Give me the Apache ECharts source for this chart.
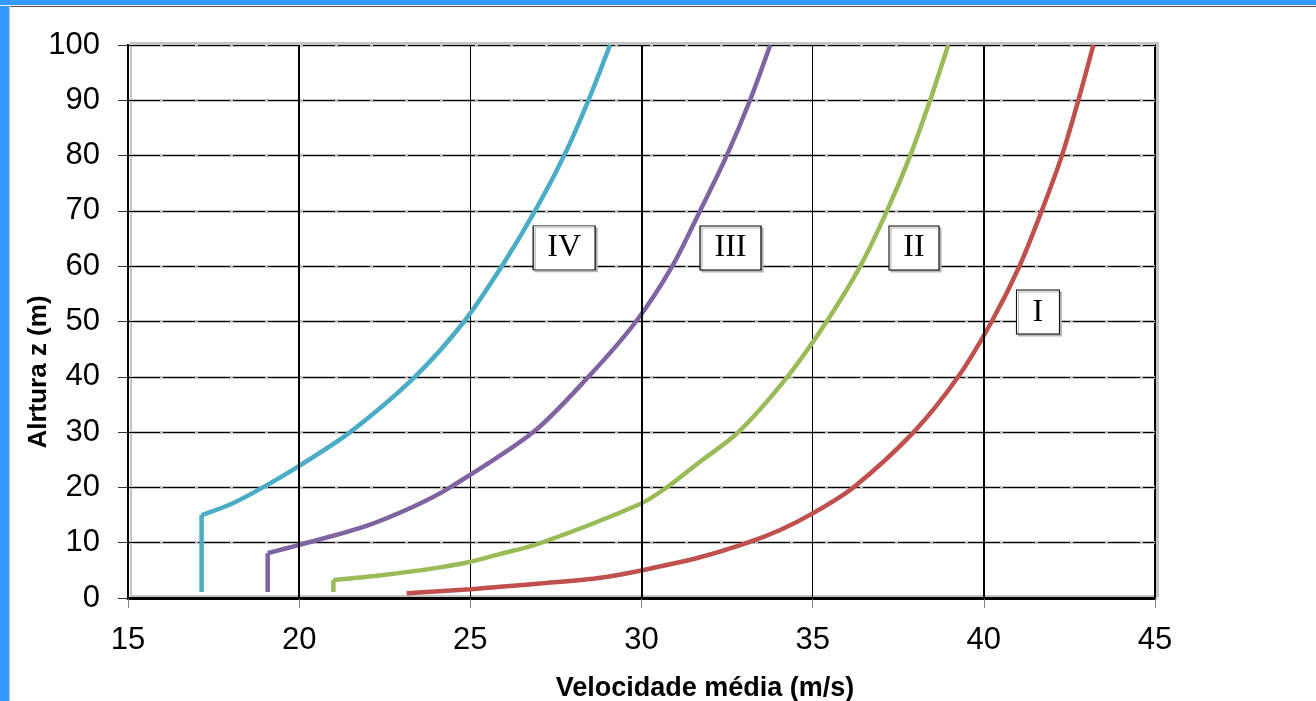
<!DOCTYPE html>
<html>
<head>
<meta charset="utf-8">
<script src="https://cdn.jsdelivr.net/npm/echarts@6/dist/echarts.min.js"></script>
<style>
  html, body { margin: 0; padding: 0; background: #fff; }
  #chart { position: absolute; left: 0; top: 0; width: 1316px; height: 701px; }
  .frame-left { position: absolute; left: 0; top: 0; width: 9px; height: 701px; background: #3399ff; border-right: 1px solid #c4c4c4; z-index: 2; }
  .frame-top { position: absolute; left: 0; top: 0; width: 1316px; height: 5px; background: #3399ff; border-bottom: 1px solid #e8f0ff; z-index: 2; }
  .frame-top-line { position: absolute; left: 10px; top: 6px; width: 1306px; height: 1px; background: #555; z-index: 2; }
</style>
</head>
<body>
<div id="chart"></div>
<div class="frame-left"></div>
<div class="frame-top"></div>
<div class="frame-top-line"></div>
<script>
// Velocidade média (m/s) x altura z (m), categorias de terreno I..IV
const classNames = ['I', 'II', 'III', 'IV'];

const heightI = [0.85, 1.57, 2.05, 2.7, 3.56, 4.94, 7.36, 10, 12.3, 15.3, 20, 30, 40, 50, 60, 70, 80, 90, 100];
const speedI  = [23.14, 25.0, 25.87, 27.2, 28.69, 29.96, 31.71, 33.1, 34.05, 35.0, 36.19, 37.95, 39.25, 40.23, 41.04, 41.69, 42.28, 42.76, 43.2];

const heightII = [1.1, 3.25, 4.16, 5.36, 6.56, 7.96, 9.9, 17.0, 20, 24.65, 30, 40, 50, 60, 70, 80, 90, 100];
const speedII  = [21.0, 21.0, 22.46, 23.92, 25.0, 25.87, 27.04, 29.96, 30.74, 31.71, 32.83, 34.26, 35.41, 36.39, 37.17, 37.85, 38.43, 38.96];

const heightIII = [1.1, 8.1, 9.6, 12.9, 16.5, 20, 30, 40, 50, 60, 70, 80, 90, 100];
const speedIII  = [19.08, 19.08, 20.0, 21.9, 23.33, 24.41, 26.84, 28.45, 29.84, 30.9, 31.71, 32.49, 33.17, 33.76];

const heightIV = [1.1, 15, 17.1, 20, 23.9, 30, 40, 50, 60, 70, 80, 90, 100];
const speedIV  = [17.15, 17.15, 18.05, 18.94, 20.0, 21.49, 23.38, 24.82, 25.92, 26.89, 27.74, 28.45, 29.08];

const xTicks = [15, 20, 25, 30, 35, 40, 45];
const yTicks = [0, 10, 20, 30, 40, 50, 60, 70, 80, 90, 100];
const majorX = [20, 30, 40];

function pairs(v, z) {
  return v.map((x, i) => [x, z[i]]);
}

let chart = echarts.init(document.getElementById('chart'));

// trecho vertical (reto) + trecho curvo (suavizado), mesma cor
function curve(name, v, z, color, box, boxSize) {
  let all = pairs(v, z);
  let k = 1;
  while (k < all.length - 1 && all[k][0] === all[0][0]) k++;
  let straight = all.slice(0, k);
  let bent = all.slice(k - 1);
  return [
    {
      type: 'line',
      yAxisIndex: 1,
      data: straight,
      showSymbol: false,
      z: 3,
      lineStyle: { color: color, width: 4.5 },
      itemStyle: { color: color }
    },
    {
      name: name,
      type: 'line',
      yAxisIndex: 1,
      data: bent,
      showSymbol: false,
      smooth: 0.3,
      z: 3,
      lineStyle: { color: color, width: 4.5 },
      itemStyle: { color: color },
      markPoint: {
        silent: true,
        symbol: 'rect',
        symbolSize: boxSize,
        itemStyle: {
          color: '#fff',
          borderColor: '#000',
          borderWidth: 1,
          shadowColor: '#b4b4b4',
          shadowOffsetX: 2,
          shadowOffsetY: 2
        },
        label: {
          show: true,
          formatter: name,
          color: '#000',
          fontFamily: 'Liberation Serif',
          fontSize: 32
        },
        data: [{ coord: box }]
      }
    }
  ];
}

let option = {
  animation: false,
  backgroundColor: '#fff',
  grid: {
    left: 128,
    right: 161,
    top: 45,
    bottom: 103,
    show: true,
    backgroundColor: '#fff',
    borderColor: '#000',
    borderWidth: 2,
    shadowColor: '#c4c4c4',
    shadowOffsetX: 3,
    shadowOffsetY: -2
  },
  xAxis: {
    type: 'value',
    min: xTicks[0],
    max: xTicks[xTicks.length - 1],
    interval: 5,
    axisLine: { lineStyle: { color: '#000', width: 3 } },
    axisTick: { show: true, length: 10, lineStyle: { color: '#808080', width: 1 } },
    axisLabel: { fontSize: 31, color: '#000', margin: 27, fontFamily: 'Liberation Sans' },
    splitLine: { show: true, lineStyle: { color: '#000', width: 1 } }
  },
  yAxis: [
    {
      // faixa cinza por baixo das linhas tracejadas
      type: 'value',
      min: yTicks[0],
      max: yTicks[yTicks.length - 1],
      interval: 10,
      position: 'left',
      axisLine: { show: false },
      axisTick: { show: false },
      axisLabel: { show: false },
      splitLine: { show: true, lineStyle: { color: '#c4c4c4', width: 3 } }
    },
    {
      type: 'value',
      min: yTicks[0],
      max: yTicks[yTicks.length - 1],
      interval: 10,
      position: 'left',
      z: 1,
      axisLine: { show: true, lineStyle: { color: '#000', width: 2 } },
      axisTick: { show: true, length: 10, lineStyle: { color: '#333', width: 1 } },
      axisLabel: { fontSize: 31, color: '#000', margin: 28, fontFamily: 'Liberation Sans' },
      splitLine: { show: true, lineStyle: { color: '#000', width: 1, type: [32, 3] } }
    }
  ],
  graphic: [
    {
      type: 'text',
      x: 39,
      y: 372,
      rotation: Math.PI / 2,
      style: {
        text: 'Alrtura z (m)',
        font: 'bold 26px "Liberation Sans"',
        fill: '#000',
        textAlign: 'center',
        textVerticalAlign: 'middle'
      }
    },
    {
      type: 'text',
      x: 705,
      y: 689,
      style: {
        text: 'Velocidade média (m/s)',
        font: 'bold 27px "Liberation Sans"',
        fill: '#000',
        textAlign: 'center',
        textVerticalAlign: 'middle'
      }
    }
  ],
  series: [
    {
      // linhas verticais mais grossas em 20, 30, 40
      type: 'line',
      yAxisIndex: 1,
      data: [],
      z: 1,
      markLine: {
        silent: true,
        symbol: 'none',
        label: { show: false },
        lineStyle: { color: '#000', width: 2, type: 'solid' },
        data: majorX.map(x => ({ xAxis: x }))
      }
    },
    ...curve(classNames[0], speedI, heightI, '#c0504d', [41.58, 51.7], [43, 44]),
    ...curve(classNames[1], speedII, heightII, '#9bbb59', [37.96, 63.3], [50, 44]),
    ...curve(classNames[2], speedIII, heightIII, '#8064a2', [32.6, 63.3], [61, 44]),
    ...curve(classNames[3], speedIV, heightIV, '#4bacc6', [27.74, 63.3], [62, 44])
  ]
};

chart.setOption(option);
</script>
</body>
</html>
